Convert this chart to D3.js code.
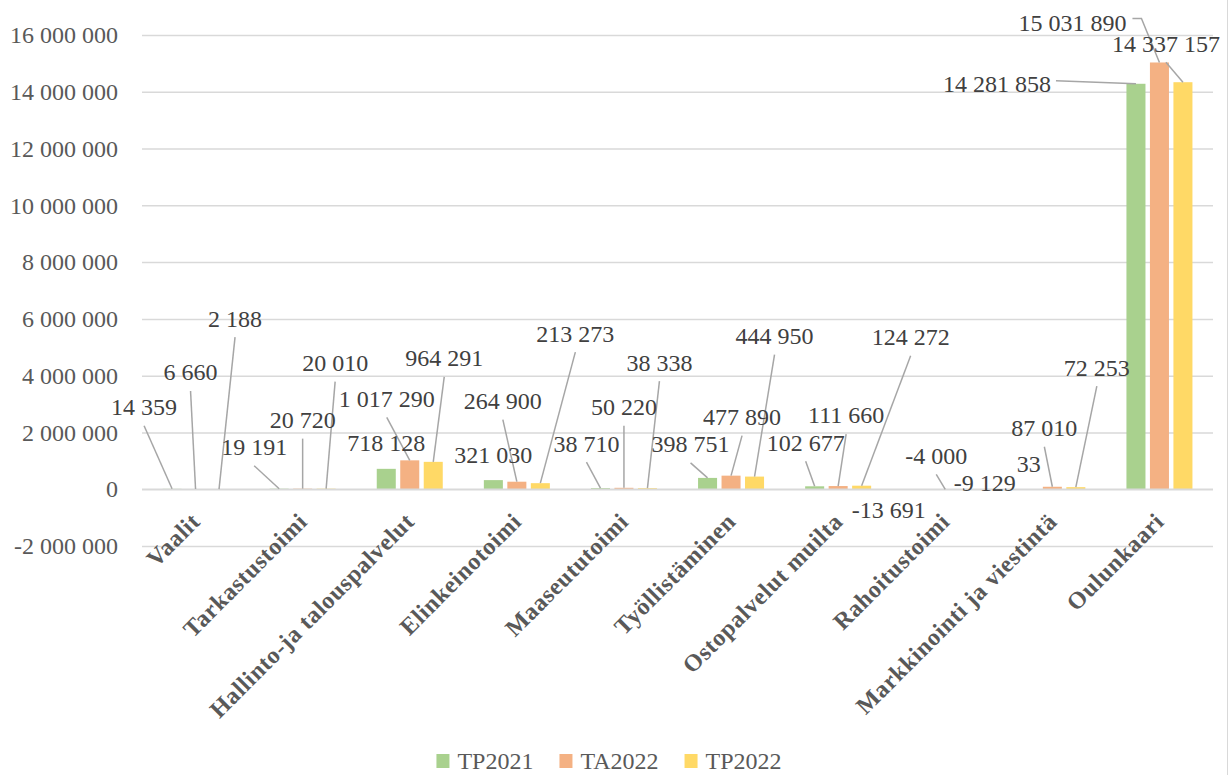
<!DOCTYPE html>
<html>
<head>
<meta charset="utf-8">
<script src="https://cdn.jsdelivr.net/npm/d3@7"></script>
<style>
  body { margin: 0; background: #fff; }
  text { font-family: "Liberation Serif", "Times New Roman", serif; }
</style>
</head>
<body>
<script>
var categories = ["Vaalit", "Tarkastustoimi", "Hallinto-ja talouspalvelut", "Elinkeinotoimi",
  "Maaseututoimi", "Työllistäminen", "Ostopalvelut muilta", "Rahoitustoimi",
  "Markkinointi ja viestintä", "Oulunkaari"];
var seriesNames = ["TP2021", "TA2022", "TP2022"];
var seriesColors = ["#A9D18E", "#F4B183", "#FFD966"];

var tp2021 = [14359, 19191, 718128, 321030, 38710, 398751, 102677, -13691, 33, 14281858];
var ta2022 = [6660, 20720, 1017290, 264900, 50220, 477890, 111660, -4000, 87010, 15031890];
var tp2022 = [2188, 20010, 964291, 213273, 38338, 444950, 124272, -9129, 72253, 14337157];

var yTicks = [-2000000, 0, 2000000, 4000000, 6000000, 8000000, 10000000, 12000000, 14000000, 16000000];

// label placement (px from bar end) and leader type: 0 none, 1 below label, 2 right, 3 right elbow
var tp2021Labels = [[-28,-82,1],[-25,-42,1],[0,-26,0],[0,-26,0],[-14,-45,1],[-17,-34,1],[-9,-44,1],[-33,20,0],[0,-26,0],[-139,0,2]];
var ta2022Labels = [[-5,-117,1],[0,-69,1],[-23,-62,1],[-14,-81,1],[0,-81,1],[11,-59,1],[8,-71,1],[-9,-34,1],[-8,-59,1],[-87,-40,3]];
var tp2022Labels = [[16,-171,1],[9,-126,1],[11,-104,1],[35,-150,1],[12,-126,1],[20,-141,1],[49,-149,1],[16,-7,0],[21,-120,1],[-17,-39,1]];

var values = [tp2021, ta2022, tp2022];
var labelPos = [tp2021Labels, ta2022Labels, tp2022Labels];

var width = 1229, height = 775;
var plotLeft = 142, plotRight = 1213, plotTop = 35, plotBottom = 546;

var fi = d3.formatLocale({decimal: ",", thousands: "\u00a0", grouping: [3], currency: ["", " €"], minus: "-"});
var fmt = fi.format(",d");

var svg = d3.select("body").append("svg")
  .attr("width", width)
  .attr("height", height);

svg.append("line")
  .attr("x1", 1227.5).attr("x2", 1227.5)
  .attr("y1", 0).attr("y2", height)
  .style("stroke", "#d9d9d9")
  .style("stroke-width", 1);

var x0 = d3.scaleBand().domain(categories).range([plotLeft, plotRight]);
var groupW = 66;
var x1 = d3.scaleBand().domain(seriesNames)
  .range([(x0.bandwidth() - groupW) / 2, (x0.bandwidth() + groupW) / 2])
  .paddingInner(0.19);
var y = d3.scaleLinear().domain([-2000000, 16000000]).range([plotBottom, plotTop]);

// gridlines + y tick labels
var yAxis = svg.append("g")
  .attr("transform", "translate(" + plotLeft + ",0)")
  .call(d3.axisLeft(y).tickValues(yTicks).tickFormat(fmt)
    .tickSize(-(plotRight - plotLeft)).tickPadding(24));
yAxis.select(".domain").remove();
yAxis.selectAll(".tick line").style("stroke", "#d9d9d9").style("stroke-width", 1.5);
yAxis.selectAll(".tick text")
  .style("font-family", "'Liberation Serif', serif")
  .style("font-size", "24px")
  .style("fill", "#595959");

// bars
var bars = [];
seriesNames.forEach(function(s, si) {
  categories.forEach(function(c, ci) {
    bars.push({cat: c, series: s, si: si, ci: ci, v: values[si][ci], lab: labelPos[si][ci]});
  });
});

svg.append("g").selectAll("rect")
  .data(bars)
  .enter().append("rect")
  .attr("x", function(d) { return x0(d.cat) + x1(d.series); })
  .attr("y", function(d) { return y(Math.max(0, d.v)); })
  .attr("width", x1.bandwidth())
  .attr("height", function(d) { return Math.abs(y(d.v) - y(0)); })
  .style("fill", function(d) { return seriesColors[d.si]; });

// zero line over the bars
svg.append("line")
  .attr("x1", plotLeft).attr("x2", plotRight)
  .attr("y1", y(0)).attr("y2", y(0))
  .style("stroke", "#d9d9d9")
  .style("stroke-width", 1.5);

// data labels with leader lines
var leaders = svg.append("g");
var labels = svg.append("g");
bars.forEach(function(d) {
  var bx = x0(d.cat) + x1(d.series) + x1.bandwidth() / 2;
  var by = y(d.v);
  var lx = bx + d.lab[0], ly = by + d.lab[1];
  var t = labels.append("text")
    .attr("x", lx).attr("y", ly).attr("dy", "0.35em")
    .attr("text-anchor", "middle")
    .style("font-size", "24px")
    .style("fill", "#404040")
    .text(fmt(d.v));
  var w = t.node().getComputedTextLength();
  var pts = null;
  if (d.lab[2] == 1) pts = [[lx, ly + 19], [bx, by]];
  if (d.lab[2] == 2) pts = [[lx + w / 2 + 5, ly - 3], [bx, by]];
  if (d.lab[2] == 3) pts = [[lx + w / 2 + 6, ly - 4], [lx + w / 2 + 15, ly - 4], [bx, by]];
  if (pts) {
    leaders.append("path")
      .attr("d", d3.line()(pts))
      .style("fill", "none")
      .style("stroke", "#a6a6a6")
      .style("stroke-width", 1.5);
  }
});

// category labels
svg.append("g").selectAll("text")
  .data(categories)
  .enter().append("text")
  .attr("transform", function(d) {
    return "translate(" + (x0(d) + x0.bandwidth() / 2 + 6) + ",523) rotate(-45)";
  })
  .attr("text-anchor", "end")
  .style("font-size", "24px")
  .style("font-weight", "bold")
  .style("letter-spacing", "0.6px")
  .style("fill", "#595959")
  .text(function(d) { return d; });

// legend
var legend = svg.append("g");
var lx = 0;
seriesNames.forEach(function(s, i) {
  var g = legend.append("g");
  g.append("rect").attr("x", 0).attr("y", -7).attr("width", 13).attr("height", 14)
    .style("fill", seriesColors[i]);
  var t = g.append("text").attr("x", 21).attr("y", 0).attr("dy", "0.35em")
    .style("font-size", "24px").style("fill", "#595959").text(s);
  var w = 21 + t.node().getComputedTextLength();
  g.attr("transform", "translate(" + lx + ",0)");
  lx += w + 26;
});
var total = lx - 26;
legend.attr("transform", "translate(" + (609 - total / 2) + ",761)");
</script>
</body>
</html>
